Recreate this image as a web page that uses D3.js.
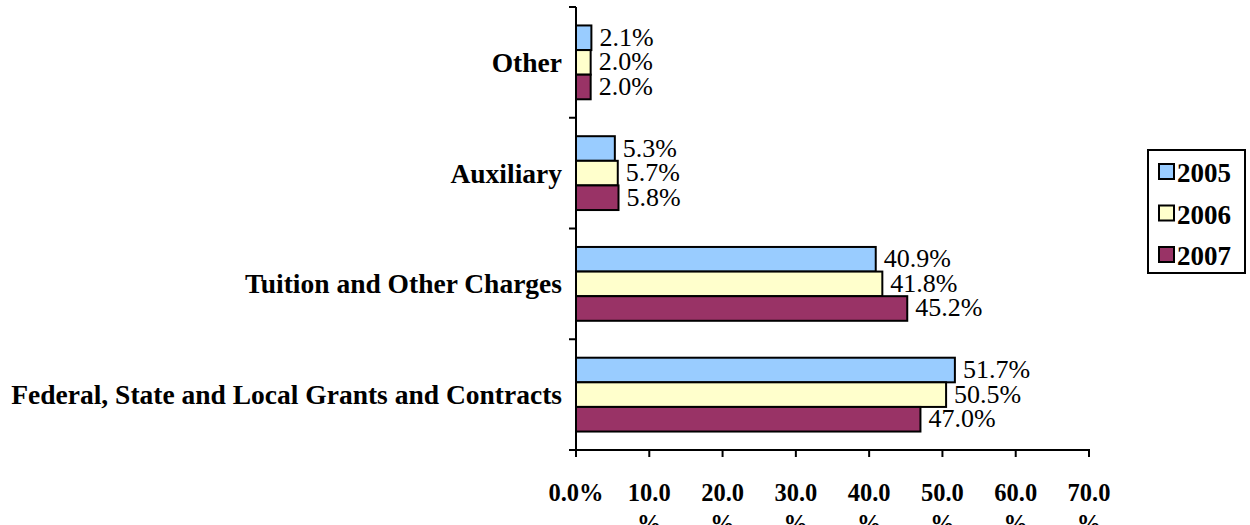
<!DOCTYPE html>
<html><head><meta charset="utf-8">
<script src="https://cdn.jsdelivr.net/npm/d3@7"></script>
<style>body{margin:0;background:#fff}svg{display:block}</style>
</head><body>
<svg id="c" width="1250" height="525"></svg>
<script>
const categories = ["Other", "Auxiliary", "Tuition and Other Charges", "Federal, State and Local Grants and Contracts"];
const seriesNames = ["2005", "2006", "2007"];
const values2005 = [2.1, 5.3, 40.9, 51.7];
const values2006 = [2.0, 5.7, 41.8, 50.5];
const values2007 = [2.0, 5.8, 45.2, 47.0];
const tickValues = [0, 10, 20, 30, 40, 50, 60, 70];
const colors = ["#99CCFF", "#FFFFCC", "#993366"];

const series = [values2005, values2006, values2007];
const svg = d3.select("#c");
const font = "'Liberation Serif', 'Times New Roman', serif";

const x = d3.scaleLinear().domain([0, 70]).range([576, 1089]);
const y = d3.scaleBand().domain(categories).range([7, 450]).paddingInner(1/3).paddingOuter(1/6);
const yStep = y.step();
const yInner = d3.scaleBand().domain(seriesNames).range([0, y.bandwidth()]);

// bars
categories.forEach((c, ci) => {
  seriesNames.forEach((s, si) => {
    const v = series[si][ci];
    const y0 = y(c) + yInner(s);
    svg.append("rect")
      .attr("x", x(0)).attr("y", y0)
      .attr("width", x(v) - x(0)).attr("height", yInner.bandwidth())
      .attr("fill", colors[si]).attr("stroke", "#000").attr("stroke-width", 2);
    svg.append("text")
      .attr("x", x(v) + 8).attr("y", y0 + yInner.bandwidth() / 2 + 8)
      .attr("font-family", font).attr("font-size", 26).attr("fill", "#000")
      .text(v.toFixed(1) + "%");
  });
});

// y axis
svg.append("line").attr("x1", 576).attr("x2", 576).attr("y1", 7).attr("y2", 450)
  .attr("stroke", "#000").attr("stroke-width", 2);
const boundaries = categories.map((c, i) => 7 + i * yStep);
boundaries.push(450);
boundaries.forEach(b => {
  svg.append("line").attr("x1", 569).attr("x2", 576).attr("y1", b).attr("y2", b)
    .attr("stroke", "#000").attr("stroke-width", 2);
});
categories.forEach(c => {
  svg.append("text").attr("x", 562).attr("y", y(c) + y.bandwidth() / 2 + 9.5)
    .attr("text-anchor", "end").attr("font-family", font).attr("font-weight", "bold")
    .attr("font-size", 27.5).text(c);
});

// x axis
svg.append("line").attr("x1", 569).attr("x2", 1090).attr("y1", 450).attr("y2", 450)
  .attr("stroke", "#000").attr("stroke-width", 2);
tickValues.forEach(t => {
  svg.append("line").attr("x1", x(t)).attr("x2", x(t)).attr("y1", 450).attr("y2", 457)
    .attr("stroke", "#000").attr("stroke-width", 2);
  const txt = svg.append("text").attr("text-anchor", "middle").attr("font-family", font)
    .attr("font-weight", "bold").attr("font-size", 24.5);
  if (t === 0) {
    txt.append("tspan").attr("x", x(t)).attr("y", 501).text("0.0%");
  } else {
    txt.append("tspan").attr("x", x(t)).attr("y", 501).text(t.toFixed(1));
    txt.append("tspan").attr("x", x(t)).attr("y", 532).text("%");
  }
});

// legend
svg.append("rect").attr("x", 1148).attr("y", 150).attr("width", 97).attr("height", 123)
  .attr("fill", "#fff").attr("stroke", "#000").attr("stroke-width", 2);
seriesNames.forEach((s, i) => {
  const cy = 172 + i * 41.5;
  svg.append("rect").attr("x", 1159).attr("y", cy - 8).attr("width", 15).attr("height", 15)
    .attr("fill", colors[i]).attr("stroke", "#000").attr("stroke-width", 2);
  svg.append("text").attr("x", 1177).attr("y", cy + 10).attr("font-family", font)
    .attr("font-weight", "bold").attr("font-size", 27).text(s);
});
</script>
</body></html>
